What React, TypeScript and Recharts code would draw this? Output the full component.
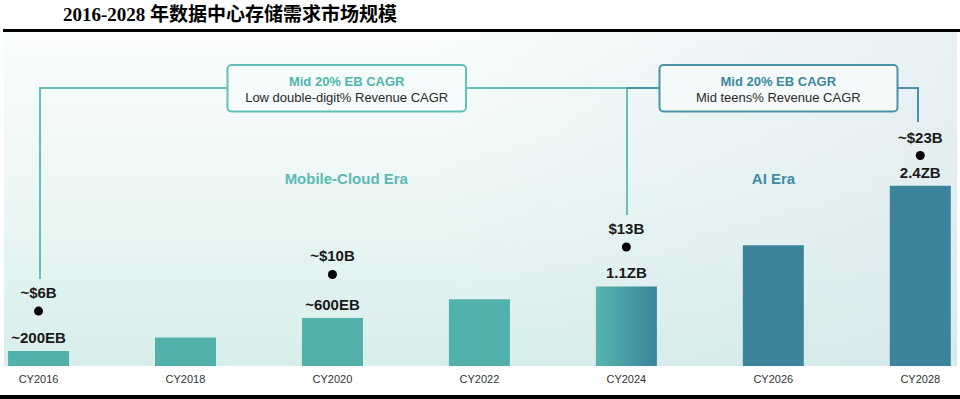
import { ComposedChart, Bar, Scatter, XAxis, YAxis, Cell, LabelList } from 'recharts'

// storage demand (EB) per year
const years = [2016, 2018, 2020, 2022, 2024, 2026, 2028]
const yearLabels = ['CY2016', 'CY2018', 'CY2020', 'CY2022', 'CY2024', 'CY2026', 'CY2028']
const storageEB = [200, 380, 640, 890, 1060, 1610, 2400]
const storageLabels = ['~200EB', '', '~600EB', '', '1.1ZB', '', '2.4ZB']

// revenue ($B) dots
const revenueYears = [2016, 2020, 2024, 2028]
const revenueB = [6, 10, 13, 23]
const revenueLabels = ['~$6B', '~$10B', '$13B', '~$23B']

const TEAL = '#52b2ab'
const BLUE = '#3b849b'
const LINE_TEAL = '#62c0b8'
const LINE_BLUE = '#4b93a8'
const FONT = '"Liberation Sans", Arial, sans-serif'

const barFills = [TEAL, TEAL, TEAL, TEAL, 'url(#midGrad)', BLUE, BLUE]

const storageData = years.map((year, i) => ({ year, eb: storageEB[i], label: storageLabels[i] }))
const revenueData = revenueYears.map((year, i) => ({ year, rev: revenueB[i], label: revenueLabels[i] }))

const RevenueDot = (props: any) => {
  const { cx, cy, payload } = props
  return (
    <g>
      <circle cx={cx} cy={cy} r={4.5} fill="#000" />
      <text x={cx} y={cy - 13} textAnchor="middle" fontSize={15} fontWeight="bold" fill="#1a1a1a" fontFamily={FONT}>
        {payload.label}
      </text>
    </g>
  )
}

export default function App() {
  return (
    <div style={{ position: 'absolute', left: 0, top: 0, width: 960, height: 399, background: '#fff', overflow: 'hidden' }}>
      {/* panel background */}
      <div
        style={{
          position: 'absolute',
          left: 4,
          top: 32,
          width: 953,
          height: 334,
          background:
            'linear-gradient(90deg, rgba(232,238,243,0) 45%, rgba(216,229,236,0.5) 100%), linear-gradient(180deg, #fafcfc 0%, #eff8f7 40%, #d7eeeb 100%)',
        }}
      />
      <div style={{ position: 'absolute', left: 0, top: 0 }}>
        <ComposedChart width={960} height={399} data={storageData} margin={{ top: 32, right: 3, bottom: 3, left: 4 }}>
          <defs>
            <linearGradient id="midGrad" x1="0" y1="0" x2="1" y2="0">
              <stop offset="0%" stopColor="#56b5ad" />
              <stop offset="100%" stopColor={BLUE} />
            </linearGradient>
          </defs>
          <XAxis
            dataKey="year"
            type="number"
            domain={[2015.53, 2028.5]}
            ticks={years}
            interval={0}
            axisLine={false}
            tickLine={false}
            tickSize={0}
            tickMargin={9}
            height={30}
            tickFormatter={(v: number) => yearLabels[years.indexOf(v)]}
            tick={{ fontSize: 11, fill: '#333', fontFamily: FONT }}
          />
          <YAxis yAxisId="eb" domain={[0, 4450]} hide />
          <YAxis yAxisId="rev" orientation="right" domain={[0, 36.5]} hide />
          <Bar yAxisId="eb" dataKey="eb" barSize={61} isAnimationActive={false}>
            {storageData.map((d, i) => (
              <Cell key={d.year} fill={barFills[i]} />
            ))}
            <LabelList dataKey="label" position="top" offset={8} fontSize={15} fontWeight="bold" fill="#1a1a1a" fontFamily={FONT} />
          </Bar>
          <Scatter yAxisId="rev" data={revenueData} dataKey="rev" shape={RevenueDot} isAnimationActive={false} />
        </ComposedChart>
      </div>
      {/* title, rules, CAGR brackets and era labels */}
      <svg width={960} height={399} style={{ position: 'absolute', left: 0, top: 0, pointerEvents: 'none' }}>
        <text x={63} y={21} fontFamily='"Liberation Serif", "Noto Sans CJK SC", serif' fontWeight="bold" fontSize={19} fill="#000">
          2016-2028 年数据中心存储需求市场规模
        </text>
        <rect x={3} y={29} width={957} height={3} fill="#000" />
        <rect x={0} y={395} width={960} height={4} fill="#000" />

        <polyline points="40,279 40,88 227,88" stroke={LINE_TEAL} strokeWidth={2} fill="none" />
        <polyline points="466,88 627,88 627,215" stroke={LINE_TEAL} strokeWidth={2} fill="none" />
        <line x1={627} y1={88} x2={659} y2={88} stroke={LINE_BLUE} strokeWidth={2} />
        <polyline points="897,88 918,88 918,122" stroke={LINE_BLUE} strokeWidth={2} fill="none" />

        <rect x={227.5} y={65} width={238.5} height={46.5} rx={4} fill="#f6fbfb" stroke={LINE_TEAL} strokeWidth={2} />
        <text x={346.7} y={85.5} textAnchor="middle" fontFamily={FONT} fontSize={13} fontWeight="bold" fill="#4fb5ad">
          Mid 20% EB CAGR
        </text>
        <text x={346.7} y={101.5} textAnchor="middle" fontFamily={FONT} fontSize={13} fill="#2a2a2a">
          Low double-digit% Revenue CAGR
        </text>

        <rect x={659.5} y={65} width={238} height={46.5} rx={4} fill="#f5f9fa" stroke={LINE_BLUE} strokeWidth={2} />
        <text x={778.3} y={85.5} textAnchor="middle" fontFamily={FONT} fontSize={13} fontWeight="bold" fill="#3a8aa0">
          Mid 20% EB CAGR
        </text>
        <text x={778.3} y={101.5} textAnchor="middle" fontFamily={FONT} fontSize={13} fill="#2a2a2a">
          Mid teens% Revenue CAGR
        </text>

        <text x={346.3} y={184} textAnchor="middle" fontFamily={FONT} fontSize={15} fontWeight="bold" fill="#5bbab2">
          Mobile-Cloud Era
        </text>
        <text x={773.5} y={184} textAnchor="middle" fontFamily={FONT} fontSize={15} fontWeight="bold" fill="#3d8ca3">
          AI Era
        </text>
      </svg>
    </div>
  )
}
